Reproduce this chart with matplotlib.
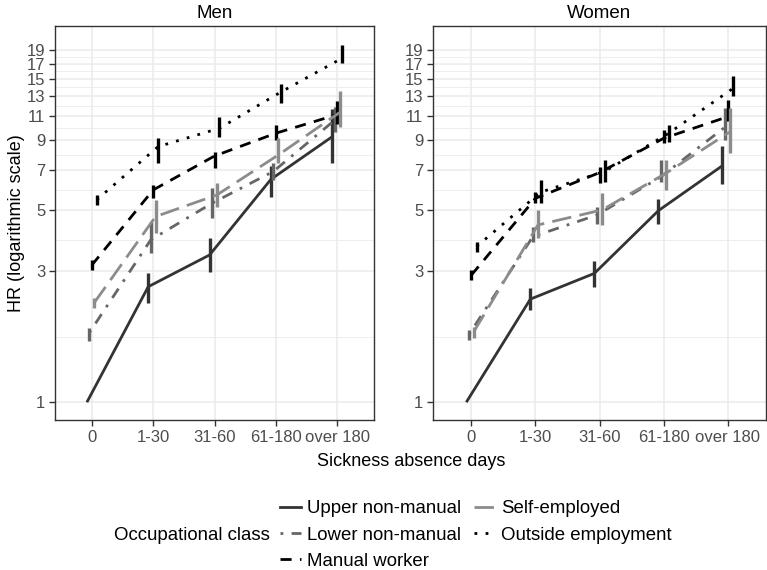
import numpy as np
import matplotlib
matplotlib.use("Agg")
import matplotlib.pyplot as plt
from matplotlib.lines import Line2D

plt.rcParams['font.family'] = ['Liberation Sans', 'DejaVu Sans']

days = ["0", "1-30", "31-60", "61-180", "over 180"]
classes = ["Upper non-manual", "Lower non-manual", "Manual worker",
           "Self-employed", "Outside employment"]

# hazard ratios with 95% CI
men_hr = {
    "Upper non-manual":   [1.00, 2.63, 3.43, 6.46, 9.23],
    "Lower non-manual":   [1.79, 3.89, 5.29, 6.90, 10.6],
    "Manual worker":      [3.15, 5.91, 7.85, 9.50, 11.1],
    "Self-employed":      [2.30, 4.73, 5.67, 7.92, 11.3],
    "Outside employment": [5.44, 8.49, 9.90, 13.4, 17.8],
}
men_lo = {
    "Upper non-manual":   [1.00, 2.30, 2.98, 5.59, 7.39],
    "Lower non-manual":   [1.67, 3.49, 4.67, 6.43, 9.6],
    "Manual worker":      [3.03, 5.52, 7.08, 8.98, 10.3],
    "Self-employed":      [2.20, 4.11, 5.14, 7.39, 10.0],
    "Outside employment": [5.22, 7.39, 9.23, 12.2, 17.1],
}
men_hi = {
    "Upper non-manual":   [1.00, 2.95, 3.96, 7.24, 11.6],
    "Lower non-manual":   [1.86, 4.53, 6.00, 7.42, 11.8],
    "Manual worker":      [3.29, 6.17, 8.15, 10.2, 12.4],
    "Self-employed":      [2.39, 5.44, 6.25, 9.10, 13.5],
    "Outside employment": [5.67, 9.10, 10.9, 14.4, 19.9],
}

women_hr = {
    "Upper non-manual":   [1.00, 2.37, 2.94, 4.97, 7.24],
    "Lower non-manual":   [1.76, 4.00, 4.79, 6.60, 10.0],
    "Manual worker":      [2.90, 5.51, 6.83, 9.10, 10.9],
    "Self-employed":      [1.81, 4.41, 5.00, 6.80, 9.62],
    "Outside employment": [3.68, 5.80, 6.90, 9.50, 13.8],
}
women_lo = {
    "Upper non-manual":   [1.00, 2.17, 2.63, 4.45, 6.22],
    "Lower non-manual":   [1.68, 3.83, 4.45, 6.30, 9.0],
    "Manual worker":      [2.78, 5.30, 6.25, 8.72, 10.5],
    "Self-employed":      [1.71, 3.94, 4.41, 5.90, 8.05],
    "Outside employment": [3.52, 5.30, 6.30, 8.80, 13.0],
}
women_hi = {
    "Upper non-manual":   [1.00, 2.60, 3.27, 5.49, 8.54],
    "Lower non-manual":   [1.83, 4.35, 5.14, 7.60, 11.7],
    "Manual worker":      [3.03, 5.83, 7.18, 9.76, 12.5],
    "Self-employed":      [1.88, 5.00, 5.75, 7.60, 11.7],
    "Outside employment": [3.83, 6.40, 7.60, 10.2, 15.3],
}

styles = {
    "Upper non-manual":   dict(color="#333333", ls="-"),
    "Lower non-manual":   dict(color="#666666", ls=(0, (1, 3, 4, 3))),
    "Manual worker":      dict(color="#000000", ls=(0, (4, 3))),
    "Self-employed":      dict(color="#8c8c8c", ls=(0, (7, 3))),
    "Outside employment": dict(color="#000000", ls=(0, (1, 3))),
}
dodge = [-0.08, -0.04, 0.0, 0.04, 0.08]

yticks = [1, 3, 5, 7, 9, 11, 13, 15, 17, 19]
minor = [np.sqrt(a * b) for a, b in zip(yticks[:-1], yticks[1:])]

fig = plt.figure(figsize=(7.67, 5.7), dpi=100)
W, H = 767, 570
ax_men = fig.add_axes([55 / W, 1 - 420 / H, 319 / W, 394 / H])
ax_wom = fig.add_axes([433 / W, 1 - 420 / H, 333 / W, 394 / H])


def draw_panel(ax, hr, lo, hi, title):
    x = np.arange(len(days))
    for k, c in enumerate(classes):
        st = styles[c]
        xs = x + dodge[k]
        ax.plot(xs, hr[c], color=st["color"], linestyle=st["ls"],
                lw=2.0, dash_capstyle="butt", solid_capstyle="butt", zorder=3)
        ax.vlines(xs, lo[c], hi[c], color=st["color"], lw=2.4, zorder=3)
    ax.set_yscale("log")
    ax.set_ylim(0.862, 23.3)
    ax.set_xlim(-0.6, 4.6)
    ax.set_yticks(yticks)
    ax.set_yticklabels([str(t) for t in yticks])
    ax.set_yticks(minor, minor=True)
    ax.set_yticklabels([], minor=True)
    ax.set_xticks(x)
    ax.set_xticklabels(days)
    ax.grid(True, which="major", color="#ebebeb", lw=1.1, zorder=0)
    ax.grid(True, which="minor", axis="y", color="#ebebeb", lw=0.6, zorder=0)
    ax.set_axisbelow(True)
    ax.tick_params(which="major", length=4, width=1.0, color="#333333",
                   labelcolor="#4d4d4d", labelsize=12, pad=3)
    ax.tick_params(which="minor", length=0)
    for sp in ax.spines.values():
        sp.set_color("#333333")
        sp.set_linewidth(1.0)
    ax.set_title(title, fontsize=13.5, pad=6)


draw_panel(ax_men, men_hr, men_lo, men_hi, "Men")
draw_panel(ax_wom, women_hr, women_lo, women_hi, "Women")

ax_men.set_ylabel("HR (logarithmic scale)", fontsize=13, labelpad=1)
fig.text(411 / W, 1 - 462 / H, "Sickness absence days", fontsize=13,
         ha="center", va="center")

handles = [Line2D([0], [0], color=styles[c]["color"], linestyle=styles[c]["ls"],
                  lw=2.0, dash_capstyle="butt") for c in classes]
fig.legend(handles, classes, ncol=2, frameon=False, fontsize=13.4,
           loc="center left", bbox_to_anchor=(280 / W, 1 - 535 / H),
           handlelength=1.12, handletextpad=0.35, columnspacing=0.65,
           labelspacing=0.5, borderpad=0, borderaxespad=0)
fig.text(270 / W, 1 - 535 / H, "Occupational class", fontsize=13.4,
         ha="right", va="center")

fig.savefig("out.png", dpi=100)
